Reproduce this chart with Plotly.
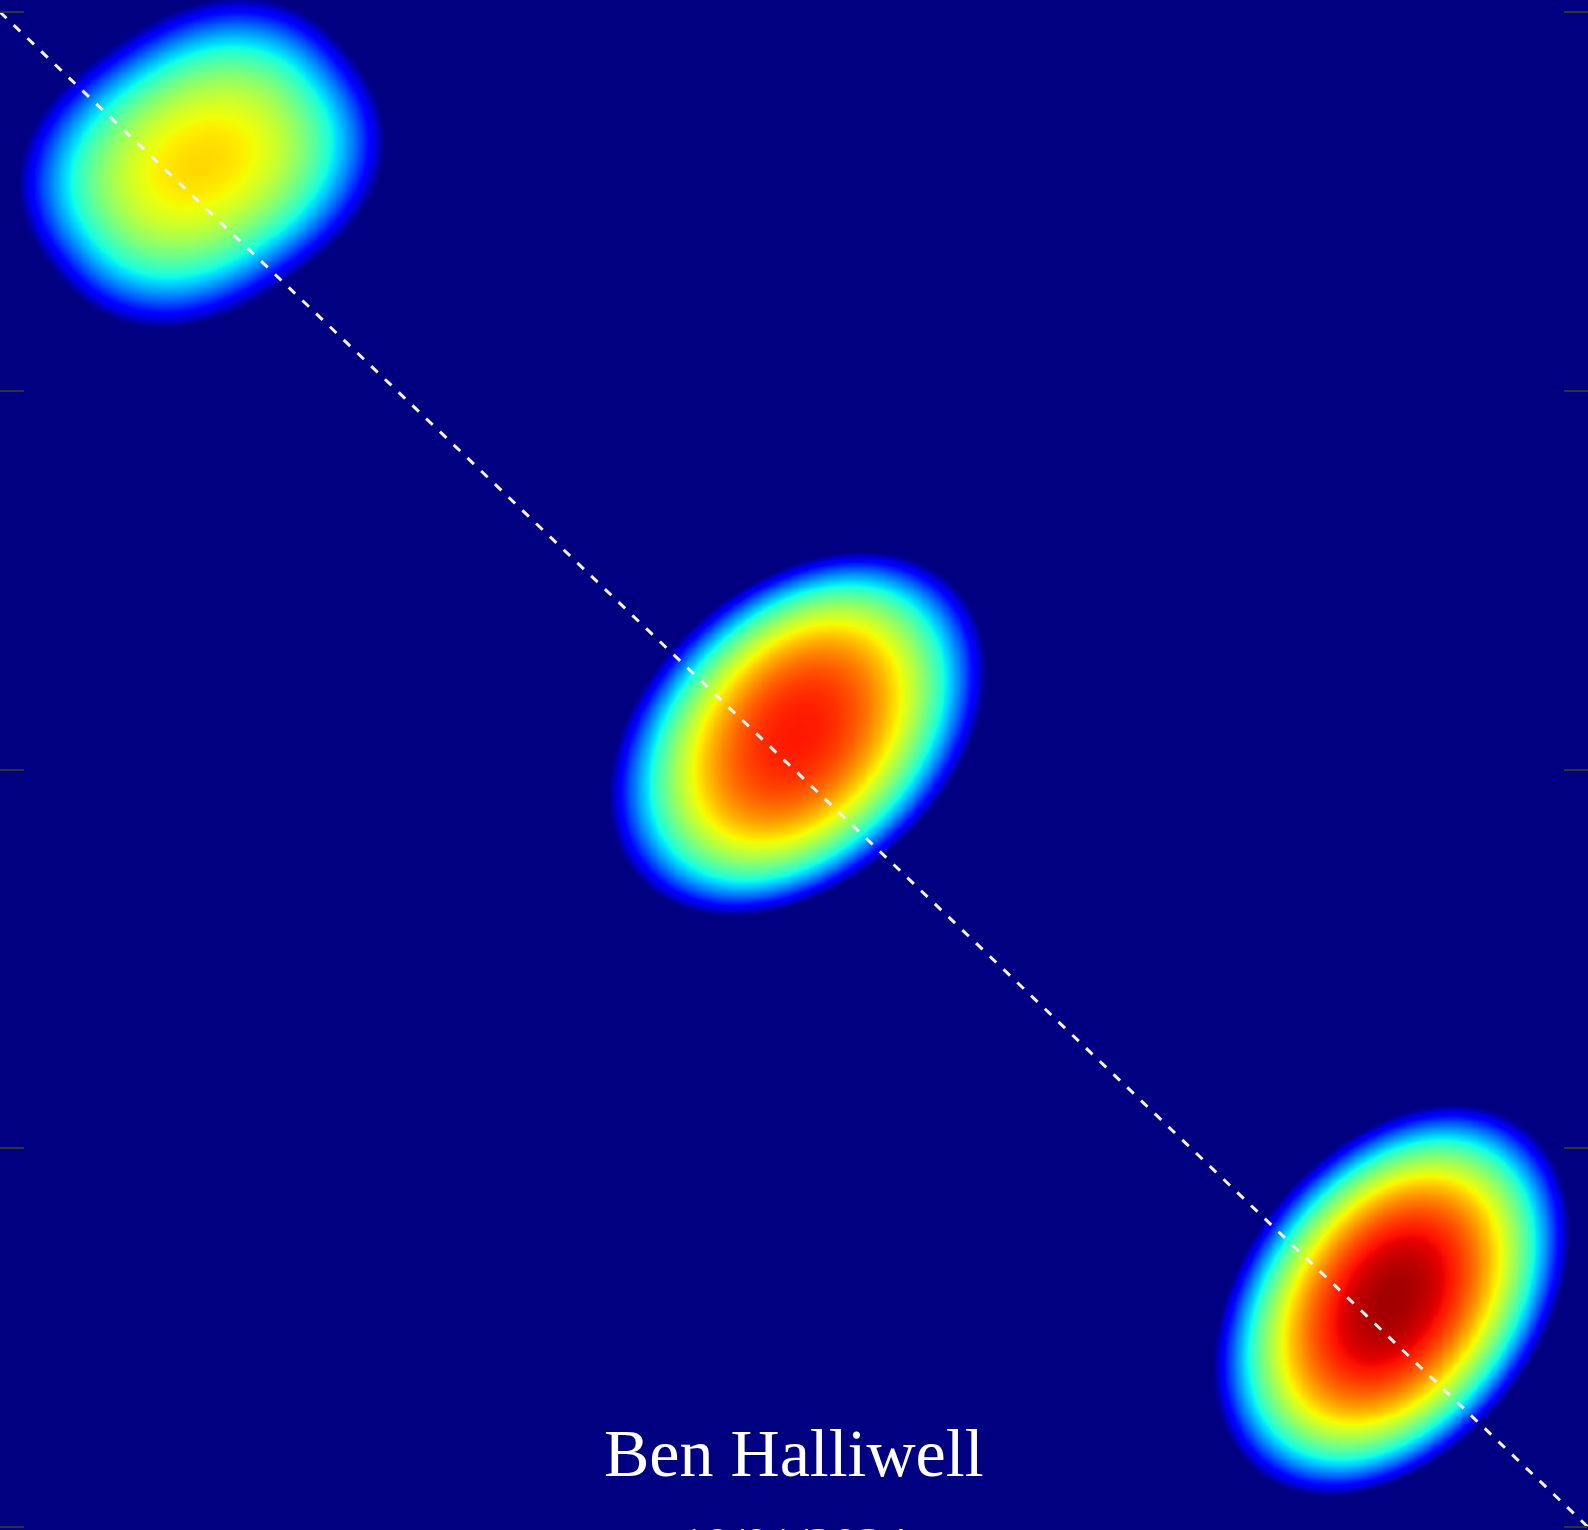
import numpy as np
import plotly.graph_objects as go

# Three density peaks (data units, y axis runs downward).
# Each peak has an inner contour shape (near the maximum) and an outer
# contour shape (at the zero level); contours in between blend the two.
blob_cx = [0.1266, 0.5019, 0.8760]
blob_cy = [0.0990, 0.4759, 0.8500]
blob_peak = [0.68, 0.885, 0.97]

outer_major = [0.1175, 0.1390, 0.1420]
outer_minor = [0.0950, 0.0968, 0.0960]
outer_angle = [36.0, 46.0, 56.0]        # degrees, major axis rising to the right
outer_power = [2.4, 2.0, 2.0]           # superellipse exponent of the rim

inner_major = [0.1250, 0.1450, 0.1450]
inner_minor = [0.0880, 0.0968, 0.0920]
inner_angle = [32.0, 62.0, 63.0]

falloff = 2.3

# identity reference line and tick positions
line_x = [0.0, 1.0]
line_y = [0.0, 1.0]
y_ticks = [0.0, 0.25, 0.5, 0.75, 1.0]

author = "Ben Halliwell"
date_text = "10/01/2024"

W, H = 1588, 1530
x_range = [0.0, 1.0]
y_range = [1.00198, -0.00792]

gx = np.linspace(x_range[0], x_range[1], 440)
gy = np.linspace(y_range[1], y_range[0], 440)
X, Y = np.meshgrid(gx, gy)


def level_distance(dx, dy, r, i):
    t = np.clip(r, 0.0, 1.0)
    ang = np.deg2rad(inner_angle[i] + (outer_angle[i] - inner_angle[i]) * t)
    a = inner_major[i] + (outer_major[i] - inner_major[i]) * t
    b = inner_minor[i] + (outer_minor[i] - inner_minor[i]) * t
    m = 2.0 + (outer_power[i] - 2.0) * t
    u = dx * np.cos(ang) - dy * np.sin(ang)
    w = dx * np.sin(ang) + dy * np.cos(ang)
    return (np.abs(u / a) ** m + np.abs(w / b) ** m) ** (1.0 / m)


Z = np.full(X.shape, -1.0)
for i in range(len(blob_cx)):
    dx, dy = X - blob_cx[i], Y - blob_cy[i]
    r = level_distance(dx, dy, np.ones_like(dx), i)
    for _ in range(40):
        r = level_distance(dx, dy, r, i)
    Z = np.maximum(Z, blob_peak[i] * (1.0 - r ** falloff))


# matplotlib-style jet colour map
def jet_rgb(v):
    r = np.interp(v, [0, 0.35, 0.66, 0.89, 1.0], [0, 0, 1, 1, 0.5])
    g = np.interp(v, [0, 0.125, 0.375, 0.64, 0.91, 1.0], [0, 0, 1, 1, 0, 0])
    bl = np.interp(v, [0, 0.11, 0.34, 0.65, 1.0], [0.5, 1, 1, 0, 0])
    return "rgb(%d,%d,%d)" % (round(r * 255), round(g * 255), round(bl * 255))


jet = [[s, jet_rgb(s)] for s in np.linspace(0, 1, 101)]

fig = go.Figure()
fig.add_trace(go.Heatmap(
    x=gx, y=gy, z=Z, zmin=0.0, zmax=1.0,
    colorscale=jet, zsmooth="best", showscale=False, hoverinfo="skip",
))
fig.add_trace(go.Scatter(
    x=line_x, y=line_y, mode="lines",
    line=dict(color="#f2f2f2", width=3, dash="9px,10px"),
    hoverinfo="skip", showlegend=False,
))

fig.add_annotation(
    text=author, xref="paper", yref="paper", x=0.5, y=0.0504,
    xanchor="center", yanchor="middle", showarrow=False,
    font=dict(family="Liberation Serif", size=68, color="white"),
)
fig.add_annotation(
    text=date_text, xref="paper", yref="paper", x=0.5, y=-0.0098,
    xanchor="center", yanchor="middle", showarrow=False,
    font=dict(family="Liberation Serif", size=50, color="#f0f0f0"),
)

fig.update_xaxes(range=x_range, showgrid=False, zeroline=False,
                 showticklabels=False, ticks="", showline=False)
fig.update_yaxes(range=y_range, showgrid=False, zeroline=False,
                 showticklabels=False, tickvals=y_ticks, ticks="inside",
                 ticklen=24, tickwidth=2, tickcolor="#333333",
                 mirror="ticks", showline=False)

fig.update_layout(
    width=W, height=H, margin=dict(l=0, r=0, t=0, b=0),
    paper_bgcolor="#00007f", plot_bgcolor="#00007f",
    showlegend=False,
)

fig.write_html("out.html")
